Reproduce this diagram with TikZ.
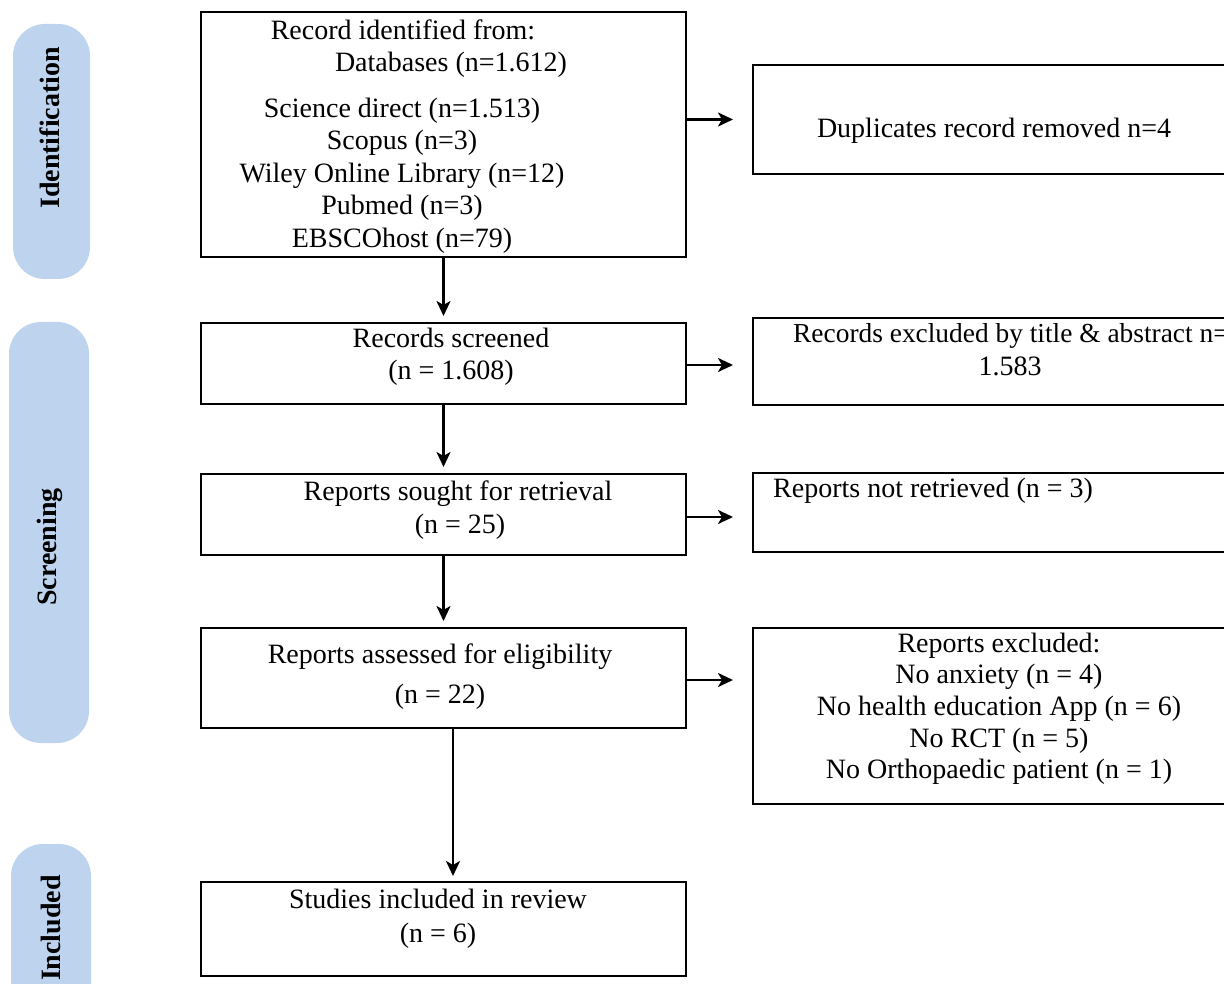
\documentclass[tikz,border=0pt]{standalone}
\usepackage{fontspec}
\setmainfont{Liberation Serif}
\usetikzlibrary{arrows.meta}
\definecolor{pillblue}{RGB}{189,211,238}
\begin{document}
\begin{tikzpicture}[x=1pt,y=-1pt,
 box/.style={draw, line width=2.9pt, inner sep=0pt, outer sep=0pt},
 pill/.style={fill=pillblue, rounded corners=32pt, inner sep=0pt, outer sep=0pt},
 txt/.style={font=\fontsize{28}{32}\selectfont, inner sep=0pt, anchor=base},
 side/.style={font=\fontsize{28}{32}\selectfont\bfseries, inner sep=0pt, rotate=90},
 arr/.style={line width=2.5pt, -{Stealth[length=15pt,width=14pt,inset=4pt]}}]
\useasboundingbox (0,0) rectangle (1224,984);
\clip (0,0) rectangle (1224,984);

% side pills
\node[pill, minimum width=77pt, minimum height=255pt] (pI) at (51.5,151.5) {};
\node[side] (tI) at (50,128) {Identification};
\node[pill, minimum width=80pt, minimum height=421pt] (pS) at (49,532.5) {};
\node[side] (tS) at (50,547) {Screening};
\node[pill, minimum width=80pt, minimum height=180pt] (pC) at (51,934) {};
\node[side] (tC) at (51,928) {Included};

% left column boxes
\node[box, minimum width=485pt, minimum height=245pt] (b1) at (443.5,134.5) {};
\node[box, minimum width=485pt, minimum height=81pt] (b3) at (443.5,363.5) {};
\node[box, minimum width=485pt, minimum height=81pt] (b5) at (443.5,514.5) {};
\node[box, minimum width=485pt, minimum height=100pt] (b7) at (443.5,678) {};
\node[box, minimum width=485pt, minimum height=94pt] (b9) at (443.5,929) {};

% right column boxes
\node[box, minimum width=520pt, minimum height=109pt] (b2) at (1013,119.5) {};
\node[box, minimum width=520pt, minimum height=87pt] (b4) at (1013,361.5) {};
\node[box, minimum width=520pt, minimum height=79pt] (b6) at (1013,512.5) {};
\node[box, minimum width=520pt, minimum height=176pt] (b8) at (1013,716) {};

% box 1 text
\node[txt] (l1a) at (403,40) {Record identified from:};
\node[txt] (l1b) at (451,72) {Databases (n=1.612)};
\node[txt] (l1c) at (402,118) {Science direct (n=1.513)};
\node[txt] (l1d) at (402,150) {Scopus (n=3)};
\node[txt] (l1e) at (402,183) {Wiley Online Library (n=12)};
\node[txt] (l1f) at (402,215) {Pubmed (n=3)};
\node[txt] (l1g) at (402,248) {EBSCOhost (n=79)};

% box 3, 5, 7, 9 text
\node[txt] (l3a) at (451,348) {Records screened};
\node[txt] (l3b) at (451,380) {(n = 1.608)};
\node[txt] (l5a) at (458,500) {Reports sought for retrieval};
\node[txt] (l5b) at (460,533) {(n = 25)};
\node[txt] (l7a) at (440,663) {Reports assessed for eligibility};
\node[txt] (l7b) at (440,703) {(n = 22)};
\node[txt] (l9a) at (438,908) {Studies included in review};
\node[txt] (l9b) at (438,942) {(n = 6)};

% right text
\node[txt] (l2) at (994,138) {Duplicates record removed n=4};
\node[txt, anchor=base west, font=\fontsize{27.4}{32}\selectfont] (l4a) at (793,343) {Records excluded by title \& abstract n=};
\node[txt] (l4b) at (1010,375) {1.583};
\node[txt, anchor=base west] (l6) at (773,497) {Reports not retrieved (n = 3)};
\node[txt] (l8a) at (999,652) {Reports excluded:};
\node[txt] (l8b) at (999,683) {No anxiety (n = 4)};
\node[txt] (l8c) at (999,715) {No health education App (n = 6)};
\node[txt] (l8d) at (999,747) {No RCT (n = 5)};
\node[txt] (l8e) at (999,778) {No Orthopaedic patient (n = 1)};

% connectors
\draw[arr] (b1.east |- b2.west) -- ([xshift=-20pt]b2.west);
\draw[arr] ([yshift=-1.5pt]b3.east) -- ([xshift=-20pt,yshift=-1.5pt]b3.east -| b4.west);
\draw[arr] ([yshift=-2.5pt]b5.east) -- ([xshift=-20pt,yshift=-2.5pt]b5.east -| b6.west);
\draw[arr] ([yshift=-2pt]b7.east) -- ([xshift=-20pt,yshift=-2pt]b7.east -| b8.west);
\draw[arr] (b1.south) -- ([yshift=7pt]b3.north);
\draw[arr] (b3.south) -- ([yshift=7pt]b5.north);
\draw[arr] (b5.south) -- ([yshift=7pt]b7.north);
\draw[arr] ([xshift=9.5pt]b7.south) -- ([xshift=9.5pt,yshift=6pt]b9.north);
\end{tikzpicture}
\end{document}
